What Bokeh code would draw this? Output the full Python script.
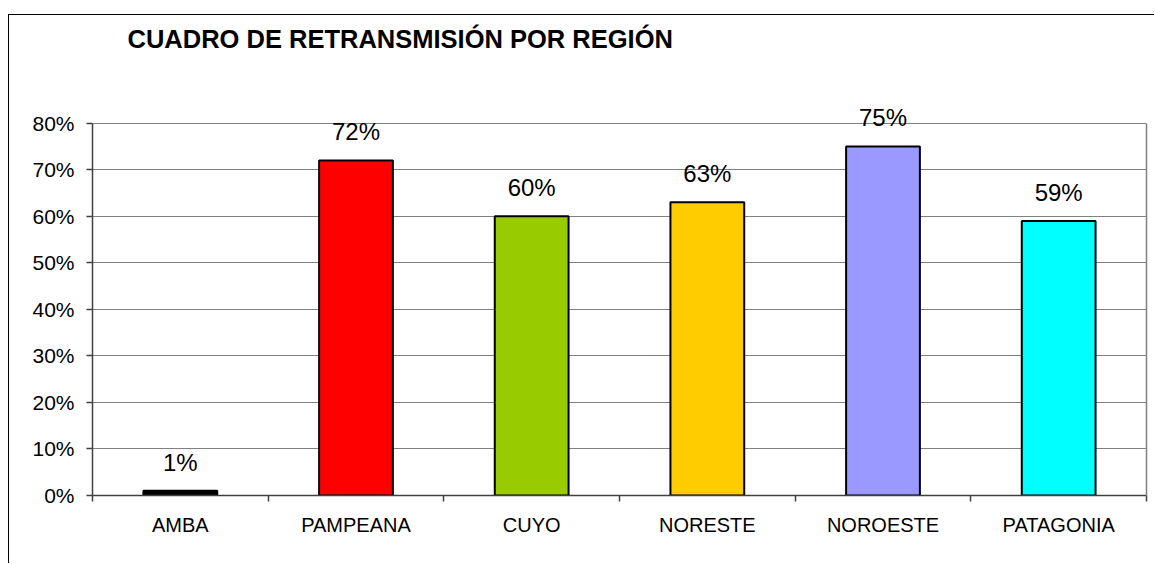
from bokeh.plotting import figure
from bokeh.models import (Range1d, FixedTicker, NumeralTickFormatter, ColumnDataSource,
                          LabelSet, Label, LinearAxis)
from bokeh.core.properties import value
from bokeh.embed import file_html
from bokeh.resources import INLINE

# ---- data ----
regions = ["AMBA", "PAMPEANA", "CUYO", "NORESTE", "NOROESTE", "PATAGONIA"]
values = [0.01, 0.72, 0.60, 0.63, 0.75, 0.59]
colors = ["#000000", "#FF0000", "#99CC00", "#FFCC00", "#9999FF", "#00FFFF"]
y_ticks = [0.0, 0.1, 0.2, 0.3, 0.4, 0.5, 0.6, 0.7, 0.8]
title_text = "CUADRO DE RETRANSMISIÓN POR REGIÓN"

FONT = "Liberation Sans"

# ---- layout (page pixels) ----
BORDER_L, BORDER_T = 8, 14          # outer chart border
W = 1155 - BORDER_L - 1
H = 564 - BORDER_T - 1
CANVAS_X0, CANVAS_Y0 = BORDER_L + 1, BORDER_T + 1
AX_LEFT, AX_RIGHT = 92, 1146        # plot area left / right
AX_TOP, AX_BOTTOM = 122.7, 495      # y of 80% and 0%
Y_MAX = 0.8
FRAME_TOP = CANVAS_Y0 + 2           # frame extends almost to the top

px_per_unit = (AX_BOTTOM - AX_TOP) / Y_MAX
y_end = (AX_BOTTOM - FRAME_TOP) / px_per_unit

xs = [i + 0.5 for i in range(len(regions))]
src = ColumnDataSource(dict(
    x=xs, top=values, color=colors,
    label=[f"{round(v * 100)}%" for v in values],
))

p = figure(width=W, height=H, output_backend="svg", toolbar_location=None,
           title=None,
           x_range=Range1d(0, len(regions)), y_range=Range1d(0, y_end),
           min_border_left=AX_LEFT - CANVAS_X0,
           min_border_right=CANVAS_X0 + W - AX_RIGHT,
           min_border_top=FRAME_TOP - CANVAS_Y0,
           min_border_bottom=CANVAS_Y0 + H - AX_BOTTOM)
p.styles = {"margin-left": f"{BORDER_L}px", "margin-top": f"{BORDER_T}px",
            "border-left": "1px solid black", "border-top": "1px solid black"}
p.background_fill_color = "white"
p.border_fill_color = "white"
p.outline_line_color = None

p.vbar(x="x", top="top", bottom=0, width=0.42, fill_color="color",
       line_color="black", line_width=2, source=src)

p.add_layout(LabelSet(x="x", y="top", text="label", source=src,
                      text_align="center", text_baseline="alphabetic",
                      y_offset=20, text_font=value(FONT), text_font_size=value("24px"),
                      text_color="black"))

# grid
p.xgrid.grid_line_color = None
p.ygrid.grid_line_color = "#808080"
p.ygrid.grid_line_width = 1
p.ygrid.ticker = FixedTicker(ticks=y_ticks)

# y axis
ya = p.yaxis[0]
ya.bounds = (0, Y_MAX)
ya.ticker = FixedTicker(ticks=y_ticks)
ya.formatter = NumeralTickFormatter(format="0%")
ya.major_label_text_font = FONT
ya.major_label_text_font_size = "21px"
ya.major_label_text_color = "black"
ya.major_tick_in = 0
ya.major_tick_out = 6
ya.minor_tick_line_color = None
ya.major_label_standoff = 12
ya.axis_line_color = "#404040"
ya.axis_line_width = 1.5
ya.major_tick_line_color = "#404040"
ya.major_tick_line_width = 1.5

# right border of plot area
ra = LinearAxis(bounds=(0, Y_MAX), ticker=FixedTicker(ticks=[]),
                axis_line_color="#808080", axis_line_width=1.5,
                major_tick_line_color=None, minor_tick_line_color=None,
                major_label_text_font_size="0px")
p.add_layout(ra, "right")

# x axis
xa = p.xaxis[0]
xa.ticker = FixedTicker(ticks=xs, minor_ticks=list(range(len(regions) + 1)))
xa.major_label_overrides = {x: r for x, r in zip(xs, regions)}
xa.major_label_text_font = FONT
xa.major_label_text_font_size = "20px"
xa.major_label_text_color = "black"
xa.major_tick_line_color = None
xa.minor_tick_in = 0
xa.minor_tick_out = 6
xa.minor_tick_line_color = "#404040"
xa.minor_tick_line_width = 1.5
xa.major_label_standoff = 12
xa.axis_line_color = "#404040"
xa.axis_line_width = 1.5

# title (inside the tall frame)
TITLE_X, TITLE_BASE = 127, 38.5
p.add_layout(Label(x=(TITLE_X - AX_LEFT) / ((AX_RIGHT - AX_LEFT) / len(regions)),
                   y=(AX_BOTTOM - TITLE_BASE) / px_per_unit,
                   text=title_text, text_font=FONT, text_font_size="25.5px",
                   text_font_style="bold", text_color="black",
                   text_baseline="alphabetic", text_align="left"))

open("out.html", "w").write(file_html(p, INLINE))
